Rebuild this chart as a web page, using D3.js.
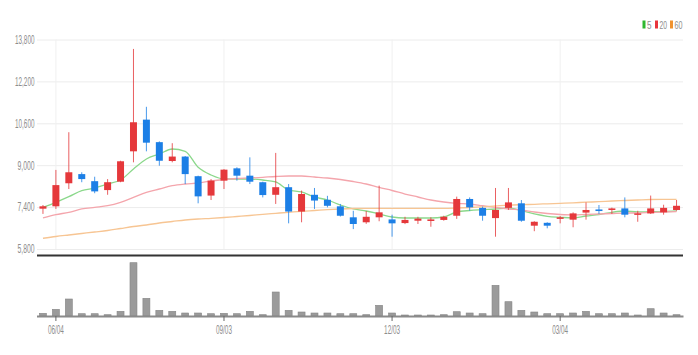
<!DOCTYPE html>
<html>
<head>
  <meta charset="utf-8">
  <style>
    body { margin: 0; background: #fff; }
    .lbl text { font: 12px "Liberation Sans Narrow", "Liberation Sans", sans-serif; fill: #8d8d8d; }
  </style>
</head>
<body>
  <script src="https://cdn.jsdelivr.net/npm/d3@7/dist/d3.min.js"></script>
  <script>

    // weekly candles
    var dates = ["05/28","06/04","06/11","06/18","06/25","07/02","07/09","07/16","07/23","07/30",
                 "08/06","08/13","08/20","08/27","09/03","09/10","09/17","09/24","10/01","10/08",
                 "10/15","10/22","10/29","11/05","11/12","11/19","11/26","12/03","12/10","12/17",
                 "12/24","12/31","01/07","01/14","01/21","01/28","02/04","02/11","02/18","02/25",
                 "03/04","03/11","03/18","03/25","04/01","04/08","04/15","04/22","04/29","05/06"];

    var opens  = [7340,7430,8310,8660,8390,8050,8370,9530,10740,9880,
                  9160,9330,8580,7840,8410,8880,8600,8350,7870,8160,
                  7230,7870,7680,7430,7010,6820,7010,6930,6790,6880,
                  6870,6910,7070,7710,7370,6980,7370,7545,6690,6800,
                  6950,6920,7190,7310,7290,7350,7110,7160,7200,7290];
    var highs  = [7480,8820,10260,8730,8560,8470,9170,13440,11230,9910,
                  9840,9350,8600,8470,8850,8920,9300,8370,9470,8280,
                  8030,8130,7830,7520,7260,7250,8220,7110,7030,7030,
                  7010,7070,7800,7770,7420,8130,8130,7670,6860,6820,
                  7060,7200,7580,7480,7380,7770,7260,7840,7490,7670];
    var lows   = [7140,7330,8090,8350,7930,7870,8350,9110,9530,8980,
                  9110,8280,7545,7670,8090,8410,8280,7770,7520,6780,
                  6820,7330,7390,7040,6560,6760,6860,6270,6750,6755,
                  6650,6880,6950,7260,6880,6270,7290,6840,6480,6590,
                  6780,6630,6920,7140,7140,7010,6840,7140,7110,7260];
    var closes = [7430,8240,8730,8470,8000,8350,9150,10640,9860,9170,
                  9330,8660,7810,8410,8830,8600,8370,7860,8160,7230,
                  7900,7650,7450,7070,6755,7030,7200,6780,6910,6960,
                  6930,7030,7710,7390,7070,7290,7580,6880,6840,6690,
                  7010,7160,7290,7250,7350,7110,7160,7350,7370,7450];

    var ma5  = [7390,7583,7798,8027,8129,8282,8435,8855,9237,9428,
                9619,9531,8920,8626,8473,8473,8473,8435,8359,8053,
                7977,7786,7671,7480,7328,7251,7137,7022,6984,6984,
                6984,7022,7213,7270,7300,7328,7366,7263,7137,7049,
                7011,6984,7060,7118,7201,7251,7213,7224,7230,7251];
    var ma20 = [6984,7110,7201,7328,7392,7454,7583,7774,7965,8091,
                8217,8282,8321,8397,8454,8492,8511,8538,8569,8588,
                8588,8550,8511,8454,8377,8282,8149,8034,7900,7786,
                7671,7595,7545,7519,7454,7392,7328,7290,7213,7156,
                7118,7100,7118,7137,7156,7175,7175,7194,7213,7230];
    var ma60 = [6209,6277,6335,6392,6449,6507,6583,6659,6717,6793,
                6850,6908,6946,6972,7003,7041,7079,7125,7163,7201,
                7240,7270,7301,7328,7347,7354,7354,7354,7354,7354,
                7354,7354,7366,7385,7412,7442,7473,7492,7507,7526,
                7545,7564,7587,7606,7633,7652,7671,7690,7698,7698];

    var volumes = [27000,67000,170000,23000,23000,13000,47000,533000,177000,57000,
                   47000,30000,30000,23000,27000,23000,47000,13000,240000,57000,
                   40000,30000,30000,23000,23000,13000,107000,30000,10000,10000,
                   10000,13000,43000,30000,23000,307000,143000,57000,40000,23000,
                   23000,30000,47000,23000,23000,30000,10000,73000,30000,13000];

    var yTicks = [5800, 7400, 9000, 10600, 12200, 13800];
    var xTicks = ["06/04", "09/03", "12/03", "03/04"];

    var legendNames = ["5", "20", "60"];
    var legendColors = ["#2fb82f", "#e8343c", "#f0922e"];
    var maColors = ["#8bd88b", "#f4a5ac", "#f7c593"];

    var left = 37, right = 683,
        priceTop = 39.5, priceBottom = 249,
        volBottom = 316, volTop = 256;

    var svg = d3.select("body").append("svg")
        .attr("width", 698)
        .attr("height", 355);

    var x = d3.scaleBand()
        .domain(dates)
        .range([36.5, 683])
        .paddingInner(0.46)
        .paddingOuter(0.23);
    var cx = function(i) { return x(dates[i]) + x.bandwidth() / 2; };

    var y = d3.scaleLinear()
        .domain([5800, 13800])
        .range([priceBottom, priceTop]);

    var yv = d3.scaleLinear()
        .domain([0, 600000])
        .range([volBottom, volTop]);

    // grid
    var gy = svg.append("g")
        .attr("transform", "translate(" + left + ",0)")
        .call(d3.axisLeft(y).tickValues(yTicks).tickSize(-(right - left)).tickFormat(""));
    gy.select(".domain").remove();
    gy.selectAll("line").attr("stroke", "#ececec");

    var gx = svg.append("g")
        .attr("transform", "translate(0," + priceBottom + ")")
        .call(d3.axisBottom(x).tickValues(xTicks).tickSize(-(priceBottom - priceTop)).tickFormat(""));
    gx.select(".domain").remove();
    gx.selectAll("line").attr("stroke", "#f0f0f0");

    // y labels
    var yl = svg.append("g")
        .attr("class", "lbl")
        .attr("transform", "translate(" + (left - 2.5) + ",0)")
        .call(d3.axisLeft(y).tickValues(yTicks).tickSize(0).tickPadding(0).tickFormat(d3.format(",")));
    yl.select(".domain").remove();
    yl.selectAll("text")
        .attr("textLength", function(d) { return d >= 10000 ? 19.5 : 17; })
        .attr("lengthAdjust", "spacingAndGlyphs");

    // moving averages
    [ma5, ma20, ma60].forEach(function(arr, k) {
      var line = d3.line()
          .x(function(d, i) { return cx(i); })
          .y(function(d) { return y(d); })
          .curve(d3.curveMonotoneX);
      svg.append("path")
          .datum(arr)
          .attr("fill", "none")
          .attr("stroke", maColors[k])
          .attr("stroke-width", 1.3)
          .attr("d", line);
    });

    // candles
    var idx = d3.range(dates.length);
    var col = function(i) { return closes[i] >= opens[i] ? "#e5383b" : "#1c7fe6"; };

    svg.selectAll(".wick")
        .data(idx)
      .enter().append("line")
        .attr("class", "wick")
        .attr("x1", function(i) { return cx(i); })
        .attr("x2", function(i) { return cx(i); })
        .attr("y1", function(i) { return y(highs[i]); })
        .attr("y2", function(i) { return y(lows[i]); })
        .attr("stroke", col)
        .attr("stroke-opacity", 0.8)
        .attr("stroke-width", 1);

    svg.selectAll(".body")
        .data(idx)
      .enter().append("rect")
        .attr("class", "body")
        .attr("x", function(i) { return x(dates[i]); })
        .attr("width", x.bandwidth())
        .attr("y", function(i) { return y(Math.max(opens[i], closes[i])); })
        .attr("height", function(i) { return Math.max(1.5, Math.abs(y(opens[i]) - y(closes[i]))); })
        .attr("fill", col);

    // pane separator
    svg.append("line")
        .attr("x1", left).attr("x2", right)
        .attr("y1", 255.5).attr("y2", 255.5)
        .attr("stroke", "#333")
        .attr("stroke-width", 2);

    // volume
    svg.selectAll(".vol")
        .data(idx)
      .enter().append("rect")
        .attr("class", "vol")
        .attr("x", function(i) { return x(dates[i]); })
        .attr("width", x.bandwidth())
        .attr("y", function(i) { return yv(volumes[i]); })
        .attr("height", function(i) { return volBottom - yv(volumes[i]); })
        .attr("fill", "#9b9b9b")
        .attr("stroke", "#858585")
        .attr("stroke-width", 0.6);

    var xa = svg.append("g")
        .attr("class", "lbl")
        .attr("transform", "translate(0," + volBottom + ")")
        .call(d3.axisBottom(x).tickValues(xTicks).tickSize(5).tickSizeOuter(0).tickPadding(4));
    xa.select(".domain").attr("stroke", "#8a8a8a").attr("stroke-width", 2);
    xa.selectAll("line").attr("stroke", "#666");
    xa.selectAll("text")
        .attr("textLength", 16)
        .attr("lengthAdjust", "spacingAndGlyphs");

    // legend
    var legX = [642.5, 655, 670];
    var legW = [4.5, 7.5, 8];
    legendNames.forEach(function(name, k) {
      svg.append("rect")
          .attr("x", legX[k]).attr("y", 20.5)
          .attr("width", 3).attr("height", 8)
          .attr("fill", legendColors[k]);
      svg.append("text")
          .attr("x", legX[k] + 4.5).attr("y", 28.5)
          .attr("textLength", legW[k])
          .attr("lengthAdjust", "spacingAndGlyphs")
          .style("font", "10.5px 'Liberation Sans Narrow', 'Liberation Sans', sans-serif")
          .style("fill", "#8d8d8d")
          .text(name);
    });

  </script>
</body>
</html>
